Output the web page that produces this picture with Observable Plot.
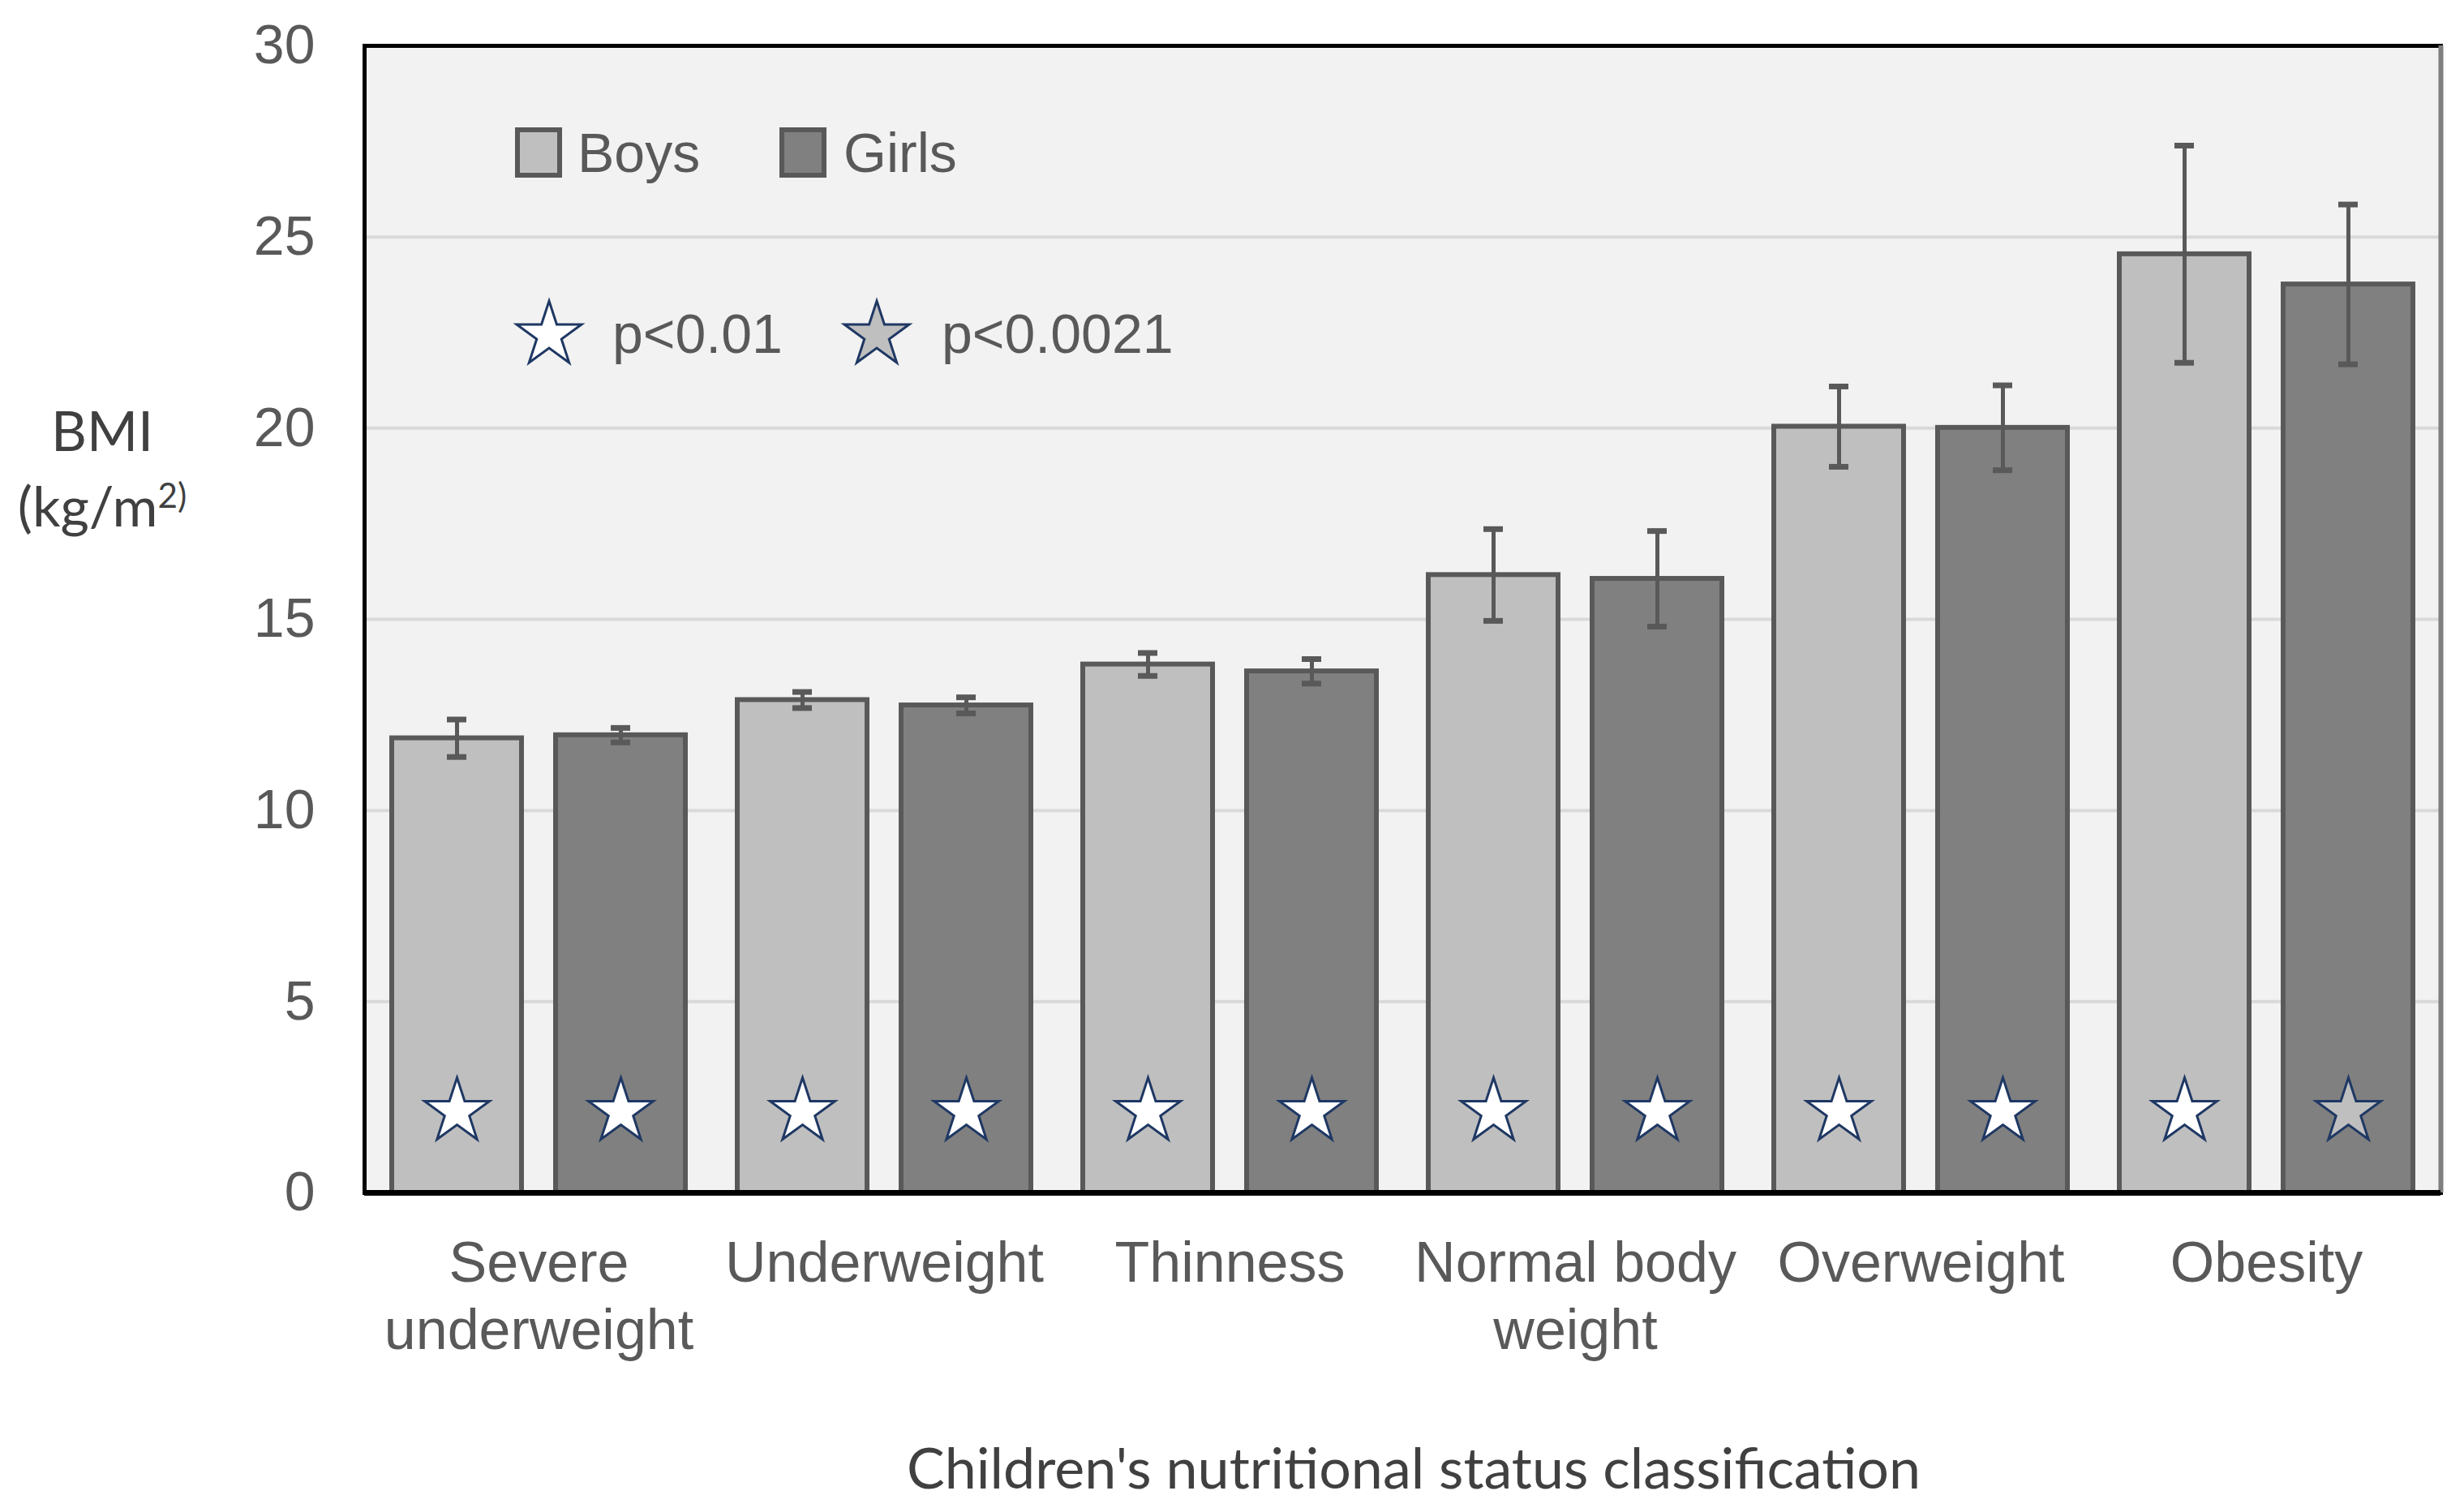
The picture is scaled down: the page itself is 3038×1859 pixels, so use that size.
<!DOCTYPE html>
<html><head><meta charset="utf-8">
<script src="https://cdn.jsdelivr.net/npm/d3@7"></script>
<script src="https://cdn.jsdelivr.net/npm/@observablehq/plot@0.6"></script>
<style>
html,body{margin:0;padding:0;background:#fff;}
#chart{position:relative;width:3038px;height:1859px;overflow:hidden;background:#fff;}
#chart > svg{position:absolute;left:0;top:0;}
.ov{position:absolute;white-space:nowrap;}
</style></head><body><div id="chart"></div>
<script>
// ---- data ----
const categories = ["Severe underweight", "Underweight", "Thinness", "Normal body weight", "Overweight", "Obesity"];
const categoryLabels = ["Severe\nunderweight", "Underweight", "Thinness", "Normal body\nweight", "Overweight", "Obesity"];
const sexes = ["Boys", "Girls"];
const boysMean = [11.89, 12.89, 13.82, 16.16, 20.04, 24.55];
const boysSD = [0.49, 0.21, 0.30, 1.20, 1.05, 2.84];
const girlsMean = [11.97, 12.75, 13.64, 16.06, 20.01, 23.76];
const girlsSD = [0.19, 0.21, 0.32, 1.25, 1.11, 2.09];
const boysSig = ["p<0.01", "p<0.01", "p<0.01", "p<0.01", "p<0.01", "p<0.01"];
const girlsSig = ["p<0.01", "p<0.01", "p<0.01", "p<0.01", "p<0.01", "p<0.0021"];
const yTicks = [0, 5, 10, 15, 20, 25, 30];
const sigLevels = ["p<0.01", "p<0.0021"];

// ---- styles ----
const sexFill = {Boys: "#bfbfbf", Girls: "#808080"};
const sigFill = {"p<0.01": "#ffffff", "p<0.0021": "#bfbfbf"};
const labelOf = Object.fromEntries(categories.map((c, i) => [c, categoryLabels[i]]));

const data = [];
categories.forEach((c, i) => {
  data.push({category: c, sex: "Boys", mean: boysMean[i], sd: boysSD[i], sig: boysSig[i]});
  data.push({category: c, sex: "Girls", mean: girlsMean[i], sd: girlsSD[i], sig: girlsSig[i]});
});
const lo = d => d.mean - d.sd;
const hi = d => d.mean + d.sd;

const common = {
  width: 3038, height: 1859,
  marginTop: 56, marginBottom: 389, marginLeft: 449, marginRight: 29,
  style: {fontFamily: "'Liberation Sans', Arial, sans-serif", background: "transparent", overflow: "visible"}
};

// background layer: panel, grid and y axis (continuous across the groups)
const back = Plot.plot({
  ...common,
  y: {domain: [0, 30], label: null},
  marks: [
    Plot.frame({fill: "#f2f2f2"}),
    Plot.gridY(yTicks.filter(t => t > 0), {stroke: "#d9d9d9", strokeOpacity: 1, strokeWidth: 4}),
    Plot.axisY(yTicks, {tickSize: 0, tickPadding: 61, fontSize: 68, color: "#595959", label: null})
  ]
});

// bars layer: grouped bars via fx facets
const front = Plot.plot({
  ...common,
  fx: {domain: categories, paddingInner: 0.15, paddingOuter: 0.075, label: null},
  x: {domain: sexes, paddingInner: 0.21, paddingOuter: 0, axis: null},
  y: {domain: [0, 30], axis: null},
  marks: [
    Plot.barY(data, {fx: "category", x: "sex", y: "mean", fill: d => sexFill[d.sex], stroke: "#595959", strokeWidth: 6}),
    Plot.ruleX(data, {fx: "category", x: "sex", y1: lo, y2: hi, stroke: "#595959", strokeWidth: 5}),
    Plot.tickY(data, {fx: "category", x: "sex", y: lo, stroke: "#595959", strokeWidth: 7, insetLeft: 68, insetRight: 68}),
    Plot.tickY(data, {fx: "category", x: "sex", y: hi, stroke: "#595959", strokeWidth: 7, insetLeft: 68, insetRight: 68}),
    Plot.dot(data, {fx: "category", x: "sex", frameAnchor: "bottom", dy: -100, symbol: "star", r: 25.1,
      fill: d => sigFill[d.sig], stroke: "#1f3864", strokeWidth: 3}),
    Plot.axisFx({anchor: "bottom", tickSize: 0, tickPadding: 51, fontSize: 70, color: "#595959",
      lineHeight: 1.18, tickFormat: d => labelOf[d], label: null})
  ]
});

// top layer: panel border (black left/top/bottom, grey right)
const border = Plot.plot({
  ...common,
  x: {domain: [0, 1], axis: null},
  y: {domain: [0, 30], axis: null},
  marks: [
    Plot.frame({stroke: "#000", strokeWidth: 5}),
    Plot.ruleX([1], {stroke: "#7f7f7f", strokeWidth: 6}),
    Plot.ruleY([0], {stroke: "#000", strokeWidth: 7})
  ]
});
const chart = document.getElementById("chart");
chart.appendChild(back);
chart.appendChild(front);
chart.appendChild(border);

// ---- HTML overlays: axis titles and legend ----
function place(html, left, cy, style, anchor) {
  const el = document.createElement("div");
  el.className = "ov";
  el.innerHTML = html;
  Object.assign(el.style, style);
  el.style.top = cy + "px";
  el.style.left = left + "px";
  el.style.transform = anchor === "middle" ? "translate(-50%,-50%)" : "translate(0,-50%)";
  chart.appendChild(el);
  return el;
}
const titleStyle = {fontFamily: "Lato, 'Open Sans', sans-serif", fontSize: "68px", color: "#404040", lineHeight: "1"};
place("BMI", 126, 530, titleStyle, "middle");
place("(kg/m<sup style='font-size:0.62em;vertical-align:0.55em;line-height:0'>2)</sup>", 126, 623, titleStyle, "middle");
place("Children's nutritional status classification", 1743, 1808, Object.assign({}, titleStyle, {fontSize: "70px"}), "middle");

const legStyle = {fontFamily: "'Liberation Sans', Arial, sans-serif", fontSize: "68px", color: "#595959", lineHeight: "1"};
sexes.forEach((s, i) => {
  const x0 = [635, 961][i];
  const sw = document.createElement("div");
  sw.className = "ov";
  Object.assign(sw.style, {left: x0 + "px", top: "157px", width: "46px", height: "50px",
    background: sexFill[s], border: "6px solid #595959"});
  chart.appendChild(sw);
  place(s, [712, 1040][i], 188, legStyle);
});
const starPath = d3.symbol(d3.symbolStar, 25.1 * 25.1 * Math.PI)();
sigLevels.forEach((s, i) => {
  const cx = [677, 1081][i];
  const svg = d3.create("svg").attr("width", 100).attr("height", 100)
    .style("position", "absolute").style("left", (cx - 50) + "px").style("top", (413 - 50) + "px");
  svg.append("path").attr("d", starPath).attr("transform", "translate(50,50)")
    .attr("fill", sigFill[s]).attr("stroke", "#1f3864").attr("stroke-width", 3);
  chart.appendChild(svg.node());
  place(s, [755, 1161][i], 411, legStyle);
});
</script></body></html>
